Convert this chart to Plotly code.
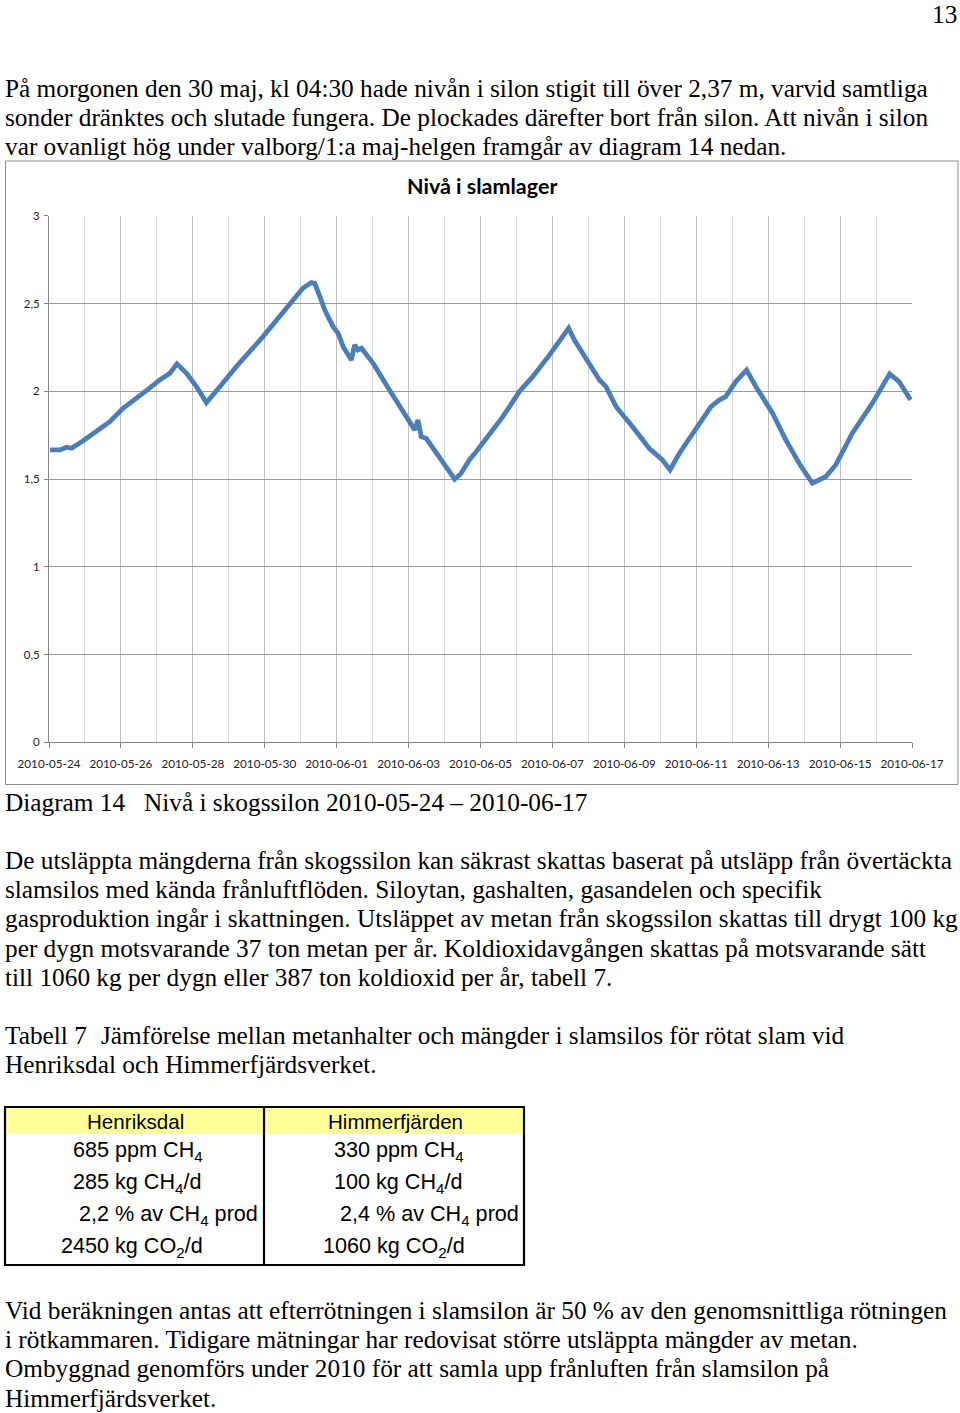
import plotly.graph_objects as go

# ---------------- data ----------------
level_times = [
    "2010-05-24 00:45", "2010-05-24 07:25", "2010-05-24 11:45", "2010-05-24 15:05",
    "2010-05-24 22:50", "2010-05-25 07:40", "2010-05-25 16:35", "2010-05-26 01:25",
    "2010-05-26 10:35", "2010-05-26 17:00", "2010-05-27 01:55", "2010-05-27 08:40",
    "2010-05-27 13:25", "2010-05-27 19:40", "2010-05-28 02:25", "2010-05-28 09:05",
    "2010-05-28 18:00", "2010-05-29 05:00", "2010-05-29 22:50", "2010-05-30 14:25",
    "2010-05-31 01:25", "2010-05-31 07:10", "2010-05-31 09:20", "2010-05-31 12:45",
    "2010-05-31 16:05", "2010-05-31 21:35", "2010-06-01 01:00", "2010-06-01 04:20",
    "2010-06-01 09:50", "2010-06-01 12:00", "2010-06-01 14:10", "2010-06-01 16:35",
    "2010-06-02 00:15", "2010-06-02 11:15", "2010-06-02 20:10", "2010-06-03 04:05",
    "2010-06-03 06:15", "2010-06-03 08:25", "2010-06-03 11:45", "2010-06-03 20:40",
    "2010-06-04 06:45", "2010-06-04 10:50", "2010-06-04 16:35", "2010-06-04 21:05",
    "2010-06-05 14:55", "2010-06-06 01:55", "2010-06-06 10:50", "2010-06-06 22:05",
    "2010-06-07 07:00", "2010-06-07 10:50", "2010-06-07 14:40", "2010-06-07 22:35",
    "2010-06-08 07:25", "2010-06-08 11:45", "2010-06-08 18:30", "2010-06-09 05:30",
    "2010-06-09 16:35", "2010-06-10 01:25", "2010-06-10 06:30", "2010-06-10 12:45",
    "2010-06-10 23:45", "2010-06-11 09:50", "2010-06-11 15:20", "2010-06-11 19:40",
    "2010-06-12 02:25", "2010-06-12 09:35", "2010-06-12 15:50", "2010-06-13 02:55",
    "2010-06-13 11:45", "2010-06-13 20:40", "2010-06-14 05:30", "2010-06-14 14:25",
    "2010-06-14 21:05", "2010-06-15 08:10", "2010-06-15 21:35", "2010-06-16 05:15",
    "2010-06-16 09:05", "2010-06-16 15:20", "2010-06-16 23:00",
]
level_values = [
    1.666, 1.666, 1.681, 1.675,
    1.718, 1.770, 1.827, 1.903,
    1.960, 2.003, 2.064, 2.103,
    2.156, 2.103, 2.026, 1.935,
    2.026, 2.140, 2.311, 2.473,
    2.587, 2.619, 2.615, 2.540,
    2.463, 2.368, 2.330, 2.254,
    2.178, 2.264, 2.235, 2.245,
    2.160, 2.007, 1.893, 1.780,
    1.836, 1.741, 1.732, 1.618,
    1.499, 1.530, 1.609, 1.655,
    1.855, 1.998, 2.083, 2.207,
    2.311, 2.359, 2.292, 2.178,
    2.064, 2.026, 1.912, 1.798,
    1.675, 1.609, 1.552, 1.647,
    1.780, 1.912, 1.950, 1.969,
    2.055, 2.121, 2.026, 1.875,
    1.723, 1.590, 1.476, 1.513,
    1.580, 1.761, 1.932, 2.045,
    2.099, 2.055, 1.951,
]
x_tick_labels = [
    "2010-05-24", "2010-05-26", "2010-05-28", "2010-05-30", "2010-06-01",
    "2010-06-03", "2010-06-05", "2010-06-07", "2010-06-09", "2010-06-11",
    "2010-06-13", "2010-06-15", "2010-06-17",
]
y_tick_values = [0, 0.5, 1, 1.5, 2, 2.5, 3]

chart_title = "Nivå i slamlager"

table_headers = ["Henriksdal", "Himmerfjärden"]
henriksdal_rows = ["685 ppm CH<sub>4</sub>", "285 kg CH<sub>4</sub>/d",
                   "2,2 % av CH<sub>4</sub> prod", "2450 kg CO<sub>2</sub>/d"]
himmerfjarden_rows = ["330 ppm CH<sub>4</sub>", "100 kg CH<sub>4</sub>/d",
                      "2,4 % av CH<sub>4</sub> prod", "1060 kg CO<sub>2</sub>/d"]

para1 = [
    "På morgonen den 30 maj, kl 04:30 hade nivån i silon stigit till över 2,37 m, varvid samtliga",
    "sonder dränktes och slutade fungera. De plockades därefter bort från silon. Att nivån i silon",
    "var ovanligt hög under valborg/1:a maj-helgen framgår av diagram 14 nedan.",
]
para2 = [
    "De utsläppta mängderna från skogssilon kan säkrast skattas baserat på utsläpp från övertäckta",
    "slamsilos med kända frånluftflöden. Siloytan, gashalten, gasandelen och specifik",
    "gasproduktion ingår i skattningen. Utsläppet av metan från skogssilon skattas till drygt 100 kg",
    "per dygn motsvarande 37 ton metan per år. Koldioxidavgången skattas på motsvarande sätt",
    "till 1060 kg per dygn eller 387 ton koldioxid per år, tabell 7.",
]
para3 = [
    "Vid beräkningen antas att efterrötningen i slamsilon är 50 % av den genomsnittliga rötningen",
    "i rötkammaren. Tidigare mätningar har redovisat större utsläppta mängder av metan.",
    "Ombyggnad genomförs under 2010 för att samla upp frånluften från slamsilon på",
    "Himmerfjärdsverket.",
]

# ---------------- layout helpers ----------------
W, H = 960, 1413


def X(px):
    return px / W


def Y(py):
    return 1 - py / H


SERIF = "Liberation Serif, Times New Roman, serif"
SANS = "Liberation Sans, Arial, sans-serif"
CHART_FONT = "Lato, Carlito, Calibri, sans-serif"
TXT = 25.3

fig = go.Figure()
fig.add_trace(go.Scatter(
    x=level_times, y=level_values, mode="lines",
    line=dict(color="#4A7EBB", width=4.8), showlegend=False, hoverinfo="skip",
))

annotations = []


def text(px, py, s, size=TXT, family=SERIF, anchor="left", color="#000000", bold=False):
    annotations.append(dict(
        x=X(px), y=Y(py), xref="paper", yref="paper", text=("<b>%s</b>" % s) if bold else s,
        showarrow=False, xanchor=anchor, yanchor="middle", align=anchor,
        font=dict(family=family, size=size, color=color), borderpad=0,
    ))


# page number
text(958, 14, "13", anchor="right")

for i, line in enumerate(para1):
    text(4, 88 + i * 29.2, line)

text(4, 802, "Diagram 14")
text(143, 802, "Nivå i skogssilon 2010-05-24 – 2010-06-17")

for i, line in enumerate(para2):
    text(4, 860 + i * 29.2, line)

text(4, 1035, "Tabell 7")
text(100, 1035, "Jämförelse mellan metanhalter och mängder i slamsilos för rötat slam vid")
text(4, 1064, "Henriksdal och Himmerfjärdsverket.")

for i, line in enumerate(para3):
    text(4, 1310 + i * 29.2, line)

# chart title
text(482, 186, chart_title, size=21.5, family=CHART_FONT, anchor="center", bold=True)

# table
TF = 20.6
TR = 21.6
text(135, 1121, table_headers[0], size=TF, family=SANS, anchor="center")
text(395, 1121, table_headers[1], size=TF, family=SANS, anchor="center")
left_starts = [72, 72, 78, 60]
right_starts = [333, 333, 339, 322]
row_y = [1151, 1183, 1215, 1247]
for i in range(4):
    text(left_starts[i], row_y[i], henriksdal_rows[i], size=TR, family=SANS)
    text(right_starts[i], row_y[i], himmerfjarden_rows[i], size=TR, family=SANS)

shapes = [
    # chart outer border
    dict(type="rect", xref="paper", yref="paper", x0=X(5.5), x1=X(958), y0=Y(161), y1=Y(784.5),
         line=dict(color="#8C8C8C", width=1), fillcolor="rgba(0,0,0,0)", layer="below"),
    # table header fill
    dict(type="rect", xref="paper", yref="paper", x0=X(5), x1=X(524), y0=Y(1108), y1=Y(1134),
         line=dict(width=0), fillcolor="#FFFF99", layer="below"),
    # table border
    dict(type="rect", xref="paper", yref="paper", x0=X(5), x1=X(524), y0=Y(1107), y1=Y(1265),
         line=dict(color="#000000", width=2.2), fillcolor="rgba(0,0,0,0)"),
    dict(type="line", xref="paper", yref="paper", x0=X(264), x1=X(264), y0=Y(1107), y1=Y(1265),
         line=dict(color="#000000", width=2.2)),
]

fig.update_layout(
    width=W, height=H, margin=dict(l=0, r=0, t=0, b=0, autoexpand=False),
    paper_bgcolor="white", plot_bgcolor="white",
    separators=", ",
    annotations=annotations, shapes=shapes,
    xaxis=dict(
        domain=[X(49), X(912)], type="date", automargin=False,
        range=["2010-05-24", "2010-06-17"],
        tickvals=[lbl for lbl in x_tick_labels], ticktext=x_tick_labels,
        showgrid=True, gridcolor="#BFBFBF", gridwidth=1,
        minor=dict(dtick=86400000, tick0="2010-05-24", showgrid=True, gridcolor="#D6D6D6", gridwidth=1),
        showline=True, linecolor="#868686", linewidth=1,
        ticks="outside", ticklen=5, tickcolor="#868686",
        ticklabelstandoff=6,
        tickfont=dict(family=CHART_FONT, size=11.7, color="#222222"),
        zeroline=False, fixedrange=True,
    ),
    yaxis=dict(
        domain=[Y(742.3), Y(215.7)], range=[0, 3], automargin=False,
        tickvals=y_tick_values,
        showgrid=True, gridcolor="#9A9A9A", gridwidth=1,
        showline=True, linecolor="#868686", linewidth=1,
        ticks="outside", ticklen=4, tickcolor="#868686",
        ticklabelstandoff=2,
        tickfont=dict(family=CHART_FONT, size=11.5, color="#222222"),
        zeroline=False, fixedrange=True,
    ),
)

fig.write_html("out.html")
